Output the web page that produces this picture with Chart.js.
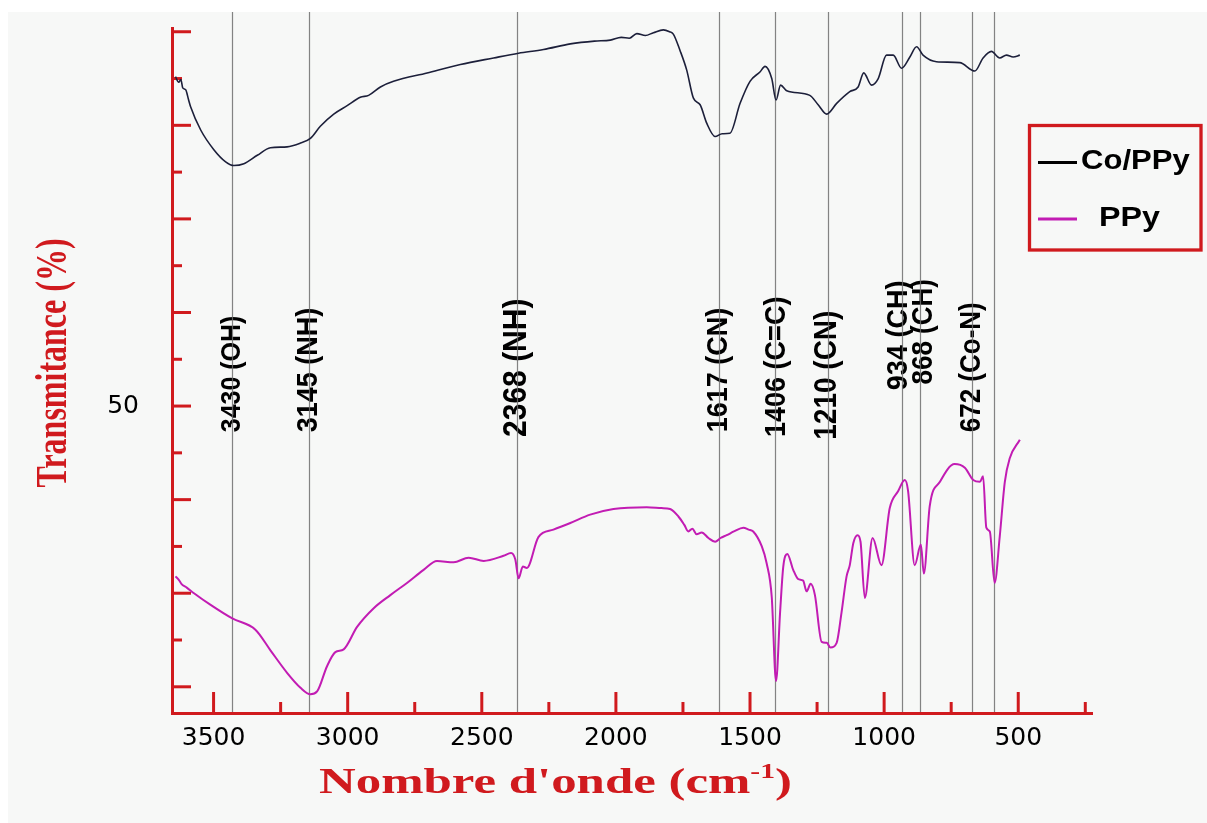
<!DOCTYPE html>
<html><head><meta charset="utf-8">
<script src="https://cdn.jsdelivr.net/npm/chart.js@4.4.1/dist/chart.umd.min.js"></script>
<style>html,body{margin:0;padding:0;background:#fff;}#wrap{width:1207px;height:823px;}</style>
</head><body><div id="wrap"><canvas id="c" width="1207" height="823"></canvas></div>
<script>
// ---- data (wavenumber cm-1, transmittance %) ----
const coppyWavenumbers = [3642,3630,3622,3615,3604,3593,3586,3548,3499,3455,3424,3387,3337,3288,3226,3176,3139,3102,3052,3002,2953,2922,2878,2829,2704,2580,2456,2363,2270,2170,2080,2021,1980,1950,1922,1890,1860,1823,1800,1786,1761,1736,1711,1686,1661,1630,1604,1575,1537,1500,1463,1444,1419,1403,1386,1363,1277,1246,1214,1177,1128,1097,1076,1047,1022,991,966,935,904,879,855,805,718,662,631,600,569,544,519,494];
const coppyTransmittance = [85.2,84.6,84.9,84.0,83.8,82.7,82.0,79.5,77.4,76.1,75.7,75.9,76.8,77.6,77.7,78.1,78.6,79.9,81.2,82.1,83.0,83.2,84.1,84.7,85.6,86.5,87.2,87.7,88.1,88.7,89.0,89.1,89.4,89.3,89.8,89.6,89.9,90.2,90.0,89.75,88.0,85.9,82.9,82.2,80.2,78.8,79.1,79.15,82.35,84.7,85.7,86.3,85.0,82.7,84.3,83.7,83.2,82.2,81.2,82.35,83.6,84.1,85.6,84.3,85.0,87.5,87.5,86.1,87.3,88.4,87.5,86.8,86.7,85.8,87.2,87.9,87.2,87.5,87.3,87.5];
const ppyWavenumbers = [3642,3629,3620,3600,3573,3511,3430,3344,3288,3226,3176,3139,3114,3077,3046,3015,2965,2903,2841,2779,2717,2667,2605,2549,2493,2419,2391,2375,2363,2347,2332,2289,2233,2170,2096,2009,1885,1830,1798,1767,1745,1730,1715,1699,1680,1655,1630,1610,1587,1560,1525,1505,1488,1456,1438,1419,1403,1388,1376,1361,1339,1320,1302,1289,1274,1258,1233,1214,1200,1177,1159,1140,1128,1115,1099,1088,1072,1043,1010,979,948,923,911,886,863,852,830,792,737,699,668,643,631,619,606,588,569,550,532,494];
const ppyTransmittance = [31.8,31.4,31.0,30.6,30.0,28.75,27.3,26.1,23.9,21.5,19.9,19.2,19.5,22.2,23.7,24.0,26.4,28.4,29.8,31.1,32.5,33.45,33.3,33.8,33.45,34.0,34.3,33.6,31.6,32.85,32.7,36.0,36.8,37.5,38.4,39.0,39.2,39.1,39.0,38.2,37.3,36.6,36.9,36.3,36.5,35.9,35.5,35.9,36.2,36.6,37.0,36.8,36.6,35.0,33.2,29.6,20.6,27.9,32.85,34.2,32.5,31.5,31.35,30.2,31.0,29.8,24.8,24.7,24.2,24.7,27.9,31.8,33.0,35.35,36.2,35.5,29.5,35.9,33.0,39.1,40.9,42.1,41.0,33.0,35.2,32.1,39.3,41.9,43.8,43.4,42.1,41.9,42.5,37.0,36.6,31.1,36.05,41.9,44.4,46.4];
const peakWavenumbers = [3430,3145,2368,1617,1406,1210,934,868,672,592];
const peakLabels = ['3430 (OH)','3145 (NH)','2368 (NH)','1617 (CN)','1406 (C=C)','1210 (CN)','934 (CH)','868 (CH)','672 (Co-N)',''];
const xMajorTicks = [3500,3000,2500,2000,1500,1000,500];
const xMinorTicks = [3250,2750,2250,1750,1250,750,250];
const yMajorTicks = [20,30,40,50,60,70,80,90];
const yMinorTicks = [25,35,45,55,65,75,85];
const yLabelTicks = [50];
const seriesNames = ['Co/PPy','PPy'];

// ---- styling / layout ----
const RED = '#d01a1e';
const COL_COPPY = '#1c1f3a';
const COL_PPY = '#c21cb3';
const labelStyle = { // anchor (text start, in transmittance units), font size and pixel nudge per peak label
  base: [47.2,47.2,46.7,47.2,46.7,46.4,51.7,52.3,47.2,47.2],
  size: [25,27,30,27,27,28,27,26,26,26],
  dx:   [0,0,0,0,2,0,-3,5,0,0]
};

function stretchedText(ctx, text, x, y, font, sx, align, baseline, rot) {
  ctx.save();
  ctx.font = font; ctx.textAlign = align; ctx.textBaseline = baseline;
  ctx.translate(x, y); ctx.scale(sx, 1); if (rot) ctx.rotate(rot);
  ctx.fillText(text, 0, 0);
  ctx.restore();
}

const decor = {
  id: 'decor',
  beforeDraw(chart) {
    const ctx = chart.ctx;
    ctx.save();
    ctx.fillStyle = '#ffffff'; ctx.fillRect(0, 0, chart.width, chart.height);
    ctx.fillStyle = '#f7f8f7'; ctx.fillRect(8, 12, chart.width - 8, chart.height - 12);
    ctx.restore();
  },
  beforeDatasetsDraw(chart) {
    const ctx = chart.ctx, xs = chart.scales.x, ys = chart.scales.y, ca = chart.chartArea;
    ctx.save();
    // peak labels
    ctx.fillStyle = '#000';
    peakWavenumbers.forEach((w, i) => {
      if (!peakLabels[i]) return;
      const px = xs.getPixelForValue(w) + labelStyle.dx[i], py = ys.getPixelForValue(labelStyle.base[i]);
      stretchedText(ctx, peakLabels[i], px, py, 'bold ' + labelStyle.size[i] + 'px "Liberation Sans", Arial, sans-serif', 1.1, 'left', 'middle', -Math.PI / 2);
    });
    // vertical peak lines
    ctx.strokeStyle = 'rgba(110,110,110,0.85)'; ctx.lineWidth = 1.2;
    peakWavenumbers.forEach(w => {
      const px = Math.round(xs.getPixelForValue(w)) + 0.5;
      ctx.beginPath(); ctx.moveTo(px, 12); ctx.lineTo(px, ca.bottom - 1); ctx.stroke();
    });
    // inward tick marks
    ctx.strokeStyle = RED; ctx.lineWidth = 3;
    const tickY = (vals, len) => vals.forEach(v => {
      const py = ys.getPixelForValue(v);
      ctx.beginPath(); ctx.moveTo(ca.left, py); ctx.lineTo(ca.left + len, py); ctx.stroke();
    });
    const tickX = (vals, len) => vals.forEach(v => {
      const px = xs.getPixelForValue(v);
      ctx.beginPath(); ctx.moveTo(px, ca.bottom); ctx.lineTo(px, ca.bottom - len); ctx.stroke();
    });
    tickY(yMajorTicks, 19); tickY(yMinorTicks, 10);
    tickX(xMajorTicks, 21); tickX(xMinorTicks, 11);
    ctx.restore();
  },
  afterDraw(chart) {
    const ctx = chart.ctx;
    ctx.save();
    ctx.fillStyle = RED;
    // y title
    stretchedText(ctx, 'Transmitance (%)', 54, 363, 'bold 32px "Liberation Serif", "Times New Roman", serif', 1.4, 'center', 'middle', -Math.PI / 2);
    // x title with superscript
    const big = 'bold 36px "Liberation Serif", "Times New Roman", serif';
    const small = 'bold 21px "Liberation Serif", "Times New Roman", serif';
    ctx.font = big; const w1 = ctx.measureText("Nombre d'onde (cm").width; const w3 = ctx.measureText(')').width;
    ctx.font = small; const w2 = ctx.measureText('-1').width;
    const total = w1 + w2 + w3, targetW = 473, sx = targetW / total;
    const x0 = 319, yb = 793;
    ctx.save(); ctx.translate(x0, yb); ctx.scale(sx, 1);
    ctx.textAlign = 'left'; ctx.textBaseline = 'alphabetic';
    ctx.font = big; ctx.fillText("Nombre d'onde (cm", 0, 0);
    ctx.font = small; ctx.fillText('-1', w1, -15);
    ctx.font = big; ctx.fillText(')', w1 + w2, 0);
    ctx.restore();
    // legend
    ctx.strokeStyle = RED; ctx.lineWidth = 3.3;
    ctx.strokeRect(1029.5, 125.5, 171.5, 124.5);
    ctx.lineWidth = 3; ctx.strokeStyle = '#000';
    ctx.beginPath(); ctx.moveTo(1038, 162.5); ctx.lineTo(1077, 162.5); ctx.stroke();
    ctx.strokeStyle = COL_PPY;
    ctx.beginPath(); ctx.moveTo(1038, 219); ctx.lineTo(1077, 219); ctx.stroke();
    ctx.fillStyle = '#000';
    stretchedText(ctx, seriesNames[0], 1081, 162, 'bold 27px "Liberation Sans", Arial, sans-serif', 1.15, 'left', 'middle', 0);
    stretchedText(ctx, seriesNames[1], 1099, 218, 'bold 28px "Liberation Sans", Arial, sans-serif', 1.15, 'left', 'middle', 0);
    ctx.restore();
  }
};

new Chart(document.getElementById('c'), {
  type: 'line',
  data: {
    datasets: [
      { label: seriesNames[0], data: coppyWavenumbers.map((w, i) => ({ x: w, y: coppyTransmittance[i] })),
        borderColor: COL_COPPY, borderWidth: 1.6, pointRadius: 0, cubicInterpolationMode: 'monotone', fill: false },
      { label: seriesNames[1], data: ppyWavenumbers.map((w, i) => ({ x: w, y: ppyTransmittance[i] })),
        borderColor: COL_PPY, borderWidth: 2, pointRadius: 0, cubicInterpolationMode: 'monotone', fill: false }
    ]
  },
  options: {
    responsive: false, animation: false, devicePixelRatio: 1,
    layout: { padding: { left: 0, top: 28, right: 115, bottom: 0 } },
    plugins: { legend: { display: false }, tooltip: { enabled: false }, title: { display: false } },
    scales: {
      x: {
        type: 'linear', reverse: true, min: 225, max: 3655,
        grid: { display: false, drawTicks: false },
        border: { display: true, color: RED, width: 3 },
        afterBuildTicks: ax => { ax.ticks = xMajorTicks.map(v => ({ value: v })); },
        afterFit: ax => { ax.height = 110; ax.paddingLeft = 0; ax.paddingRight = 0; ax.paddingTop = 0; ax.paddingBottom = 0; },
        ticks: { color: '#000', padding: 10, maxRotation: 0, autoSkip: false,
          callback: v => String(v),
          font: { family: '"DejaVu Sans", sans-serif', size: 25 } }
      },
      y: {
        type: 'linear', min: 17.2, max: 90.4,
        grid: { display: false, drawTicks: false },
        border: { display: true, color: RED, width: 3 },
        afterBuildTicks: ax => { ax.ticks = yLabelTicks.map(v => ({ value: v })); },
        afterFit: ax => { ax.width = 172; ax.paddingTop = 0; ax.paddingBottom = 0; ax.paddingLeft = 0; ax.paddingRight = 0; },
        ticks: { color: '#000', padding: 33, callback: v => String(v),
          font: { family: '"DejaVu Sans", sans-serif', size: 25 } }
      }
    }
  },
  plugins: [decor]
});
</script>
</body></html>
